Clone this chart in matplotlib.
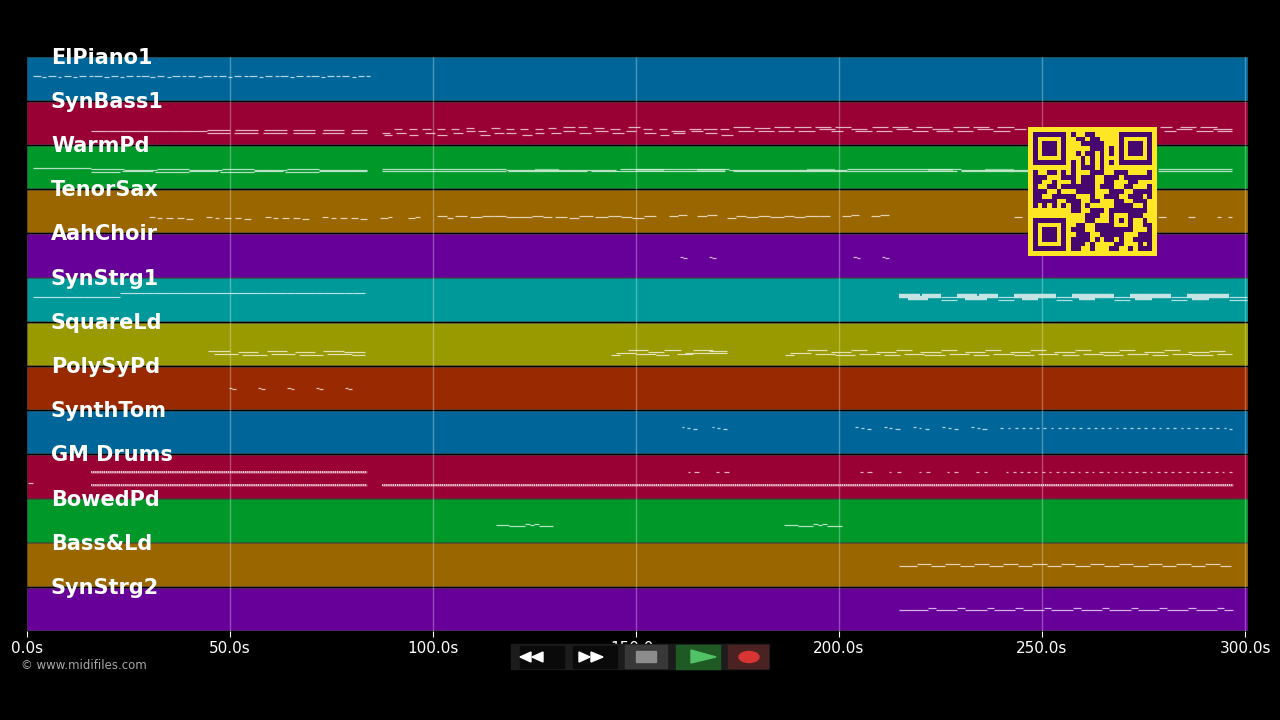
import numpy as np
import matplotlib
matplotlib.use("Agg")
import matplotlib.pyplot as plt
from matplotlib.colors import ListedColormap
from matplotlib.patches import Rectangle, Polygon, Ellipse

track_names = ["ElPiano1", "SynBass1", "WarmPd", "TenorSax", "AahChoir", "SynStrg1", "SquareLd",
               "PolySyPd", "SynthTom", "GM Drums", "BowedPd", "Bass&Ld", "SynStrg2"]
track_colors = ["#006699", "#990033", "#009929", "#996600", "#660099", "#009999", "#999900",
                "#992900", "#006699", "#990033", "#009929", "#996600", "#660099"]
time_ticks = [0, 50, 100, 150, 200, 250, 300]
time_labels = ["0.0s", "50.0s", "100.0s", "150.0s", "200.0s", "250.0s", "300.0s"]

# notes are (start seconds, end seconds, position inside the track row)
el_piano = [(1.5, 3.4, .45), (3.8, 4.6, .46), (5.2, 7.2, .45), (7.6, 8.4, .46), (9, 10.8, .45), (11.4, 12.4, .46),
            (12.8, 14.6, .45), (15.2, 16.2, .44), (16.6, 18.4, .45), (19, 20.2, .46), (20.6, 22.4, .45),
            (23, 24, .46), (24.4, 26.2, .45), (26.8, 27.8, .44), (28.2, 30, .45), (30.4, 31.6, .46),
            (32, 33.8, .45), (34.4, 35.4, .46), (35.8, 37.6, .45), (38.2, 39.2, .44), (39.6, 41.4, .45),
            (42, 43, .46), (43.4, 45.4, .45), (45.8, 46.8, .44), (47.2, 49, .45), (49.6, 50.6, .46),
            (51, 52.8, .45), (53.4, 54.4, .44), (54.8, 56.6, .45), (57.2, 58.2, .46), (58.6, 60.4, .45),
            (61, 62, .44), (62.4, 64.2, .45), (64.8, 65.8, .46), (66.2, 68, .45), (68.6, 69.6, .44),
            (70, 71.8, .45), (72.4, 73.4, .46), (73.8, 75.6, .45), (76.2, 77.2, .44), (77.6, 79.4, .45),
            (80, 81, .46), (81.4, 83, .45), (83.4, 84.6, .45)]
syn_bass = [(15.7, 20, .68), (20, 23, .69), (23, 28, .68), (28, 30, .69), (30, 35, .68), (35, 37.5, .69),
            (37.5, 44.3, .68), (44.3, 50, .67), (44.3, 50, .72), (51.2, 57, .67), (51, 57, .72),
            (58.4, 64, .67), (58.2, 64, .72), (65.6, 71, .67), (65.4, 71, .72), (72.8, 78, .67),
            (72.6, 78, .72), (80, 83.7, .67), (79.8, 83.7, .72),
            (87.4, 89.4, .72), (88, 90, .78), (90.4, 92.4, .65), (91, 93.4, .72), (94, 96, .65), (94, 96.4, .78),
            (97.4, 99.4, .65), (98, 100.4, .72), (101, 103, .65), (101, 103.4, .78), (104.4, 106.4, .65),
            (105, 107.4, .72), (108, 110, .62), (108, 110.4, .69), (111, 113, .69), (111.6, 114, .78),
            (114.4, 116.4, .62), (115, 117.4, .72), (118, 120, .65), (118, 120.4, .72), (121.4, 123.4, .65),
            (122, 124.4, .78), (125, 127, .65), (125, 127.4, .72), (128.4, 130.4, .62), (129, 131.4, .72),
            (132, 135, .6), (132, 135, .69), (135.6, 138, .6), (136, 139, .72), (139.4, 142, .62), (140, 143, .69),
            (143.5, 146, .63), (144, 147, .72), (147.6, 150, .69), (148, 151, .6), (151.6, 154, .65),
            (152, 155, .72), (155.6, 157.6, .65), (156, 158, .78), (158.6, 162, .69), (159, 162, .74),
            (163, 166, .63), (163.6, 166.6, .69), (166.6, 170, .65), (167, 170, .74), (170.6, 173, .65),
            (171, 174, .78), (174, 178, .59), (175, 179, .69), (179, 183, .62), (180, 184, .69),
            (184, 188, .59), (185, 189, .69), (189, 193, .59), (190, 194, .69), (194, 198, .59),
            (195, 199, .63), (198, 201, .69), (199, 203, .59), (203, 207, .63), (204, 208, .69),
            (208, 212, .59), (209, 213, .69), (213, 217, .59), (214, 218, .63), (218, 222, .69),
            (219, 223, .59), (223, 227, .63), (224, 228, .69), (228, 232, .59), (229, 233, .69),
            (233, 237, .59), (234, 238, .63), (238, 242, .69), (239, 243, .59), (243, 246, .63),
            (279, 282, .59), (280, 283, .69), (283, 287, .63), (284, 288, .59), (288, 292, .69),
            (289, 293, .59), (292, 296.8, .63), (293, 296.8, .69)]
warm_pd = [(1.5, 15.7, .525), (15.7, 24, .54), (15.7, 23, .61), (24, 32, .56), (23.5, 31, .6), (32, 40, .54),
           (31.5, 40, .61), (40, 48, .56), (40, 47, .6), (48, 56, .54), (47.5, 56, .61), (56, 64, .56),
           (56, 63, .6), (64, 72, .54), (63.5, 72, .61), (72, 83.7, .56), (72, 83.7, .6),
           (87.5, 118, .555), (87.5, 118, .595), (118, 145, .56), (118.5, 138, .6), (139, 146, .6),
           (146, 173, .55), (146, 172, .595), (173, 202, .56), (174, 202, .6), (202, 230, .55),
           (202, 229, .595), (230, 246.5, .56), (230, 246.5, .6), (278.5, 296.8, .555), (278.5, 296.8, .595)]
warm_thick = [(125, 131), (150, 157), (165, 172), (192, 199), (222, 228), (236, 243)]
tenor_sax = [(30, 31.5, .64), (32, 33.2, .66), (34.2, 36, .65), (37, 38.6, .65), (39.2, 41, .67),
             (44, 45.6, .64), (46.2, 47.4, .66), (48.4, 50.2, .65), (51.2, 52.8, .65), (53.4, 55.2, .67),
             (58.5, 60, .64), (60.6, 61.8, .66), (62.8, 64.6, .65), (65.6, 67.2, .65), (67.8, 69.5, .67),
             (72.7, 74.2, .64), (74.8, 76, .66), (77, 78.8, .65), (79.8, 81.4, .65), (82, 83.7, .67),
             (87, 88.8, .66), (88.8, 90, .64), (93.9, 95.6, .66), (95.6, 96.8, .64),
             (101, 103.4, .62), (103.4, 105, .65), (105.4, 108.4, .62), (109, 112, .63), (112, 115, .61),
             (115, 118, .62), (118, 121, .64), (121, 124.4, .63), (124.4, 127, .61), (127, 129.4, .64),
             (130, 133, .63), (133.4, 136, .65), (136, 139.4, .62), (140, 143, .63), (143, 146.4, .61),
             (146.4, 149, .63), (149, 152, .65), (152, 155, .62), (158, 160.4, .62), (160.4, 162.5, .59),
             (165, 167.4, .62), (167.4, 170, .59), (172.4, 174.6, .65), (174.6, 177, .62), (177, 180, .64),
             (180, 183, .62), (183, 186.4, .63), (186.4, 189, .61), (189, 191.6, .64), (191.6, 195, .62),
             (195, 197.7, .6), (200.7, 203, .62), (203, 205, .59), (207.9, 210, .62), (210, 212.3, .59),
             (243, 245, .63), (278.6, 280.5, .63), (286, 287.7, .63), (293, 294, .63), (295.8, 296.7, .63)]
aah_choir = [(160.8, 161.6, .53), (161.6, 162.5, .55), (168, 168.8, .53), (168.8, 169.7, .55),
             (203.5, 204.3, .53), (204.3, 205.2, .55), (210.6, 211.4, .53), (211.4, 212.3, .55)]
syn_strg1 = [(1.5, 9, .44), (9, 14, .45), (14, 23, .44), (23, 29, .35), (29, 31, .36), (31, 36, .35), (36, 38, .36),
             (38, 43, .35), (43, 45, .36), (45, 50, .35), (50, 52, .36), (52, 57, .35), (57, 59, .36), (59, 64, .35),
             (64, 66, .36), (66, 71, .35), (71, 73, .36), (73, 78, .35), (78, 80, .36), (80, 83.3, .35),
             (225, 229, .44), (225, 229, .52), (239.2, 243.2, .44), (239.2, 243.2, .52), (253.4, 257.4, .44),
             (253.4, 257.4, .52), (267.6, 271.6, .44), (267.6, 271.6, .52), (281.8, 285.8, .44),
             (281.8, 285.8, .52), (296, 300.4, .44), (296, 300.4, .52)]
strg1_thick = [(214.8, 220, .41), (217, 222, .46), (220.5, 225, .41), (229, 234, .41), (231, 236.5, .46),
               (234.5, 239.2, .41), (243.2, 247, .41), (245, 249, .46), (247, 253.4, .41), (257.4, 261, .41),
               (259, 263, .46), (261, 267.6, .41), (271.6, 275, .41), (273, 277, .46), (275, 281.8, .41),
               (285.8, 289, .41), (287, 291, .46), (289, 296, .41)]
square_ld = [(44.6, 50, .67), (46, 52, .74), (52, 57, .68), (53, 59, .76), (59, 64, .67), (60, 66, .74),
             (66, 71, .68), (67, 73, .76), (73, 78, .67), (74, 80, .74), (78, 83.3, .68), (80, 83.3, .76),
             (143.8, 146, .76), (145, 150, .71), (148, 153, .64), (150, 155, .73), (153, 157, .68), (155, 158, .76),
             (157, 161, .65), (160, 164, .73), (162, 166, .71), (164, 169, .64), (166, 172.4, .7), (168, 172.4, .66),
             (186.7, 189, .76), (188, 193, .71), (192, 197, .64), (194, 199, .73), (198, 203, .68), (199, 204, .76),
             (203, 207, .65), (205, 210, .73), (209, 214, .68), (211, 215, .76), (214, 218, .64), (216, 221, .73),
             (220, 225, .68), (221, 226, .76), (225, 229, .65), (227, 232, .73), (231, 236, .68), (233, 237, .76),
             (236, 240, .64), (238, 243, .73), (242, 247, .68), (243, 248, .76), (247, 251, .65), (249, 254, .73),
             (253, 258, .68), (255, 259, .76), (258, 262, .64), (260, 265, .73), (264, 269, .68), (265, 270, .76),
             (269, 273, .65), (271, 276, .73), (275, 280, .68), (277, 281, .76), (280, 284, .64), (282, 287, .73),
             (286, 291, .68), (287, 292, .76), (291, 295, .66), (293, 296.8, .73)]
poly_sy = [(49.8, 50.6, .5), (50.6, 51.5, .52), (56.9, 57.7, .5), (57.7, 58.6, .52), (64, 64.9, .5), (64.9, 65.8, .52),
           (71.2, 72, .5), (72, 72.9, .52), (78.3, 79.1, .5), (79.1, 80, .52)]
synth_tom = [(161.2, 161.9, .39), (162.6, 163.3, .41), (164, 165, .43), (168.6, 169.3, .39), (170, 170.7, .41),
             (171.3, 172.3, .43), (204, 204.7, .39), (205.4, 206.1, .41), (206.8, 207.8, .43),
             (211, 211.7, .39), (212.4, 213.1, .41), (213.9, 215, .43), (218.2, 218.9, .39), (219.6, 220.3, .41),
             (221.1, 222.2, .43), (225.4, 226.1, .39), (226.8, 227.5, .41), (228.2, 229.3, .43),
             (232.5, 233.2, .39), (233.9, 234.6, .41), (235.3, 236.4, .43),
             (239.7, 240.4, .4), (241.5, 242.2, .41), (243.3, 244, .4), (245, 245.7, .41), (246.8, 247.5, .4),
             (248.6, 249.3, .41), (250.3, 251, .4), (252.1, 252.8, .41), (253.9, 254.6, .4), (255.7, 256.4, .41),
             (257.4, 258.1, .4), (259.2, 259.9, .41), (261, 261.7, .4), (262.8, 263.5, .41), (264.5, 265.2, .4),
             (266.3, 267, .41), (268.1, 268.8, .4), (269.9, 270.6, .41), (271.6, 272.3, .4), (273.4, 274.1, .41),
             (275.2, 275.9, .4), (277, 277.7, .41), (278.7, 279.4, .4), (280.5, 281.2, .41), (282.3, 283, .4),
             (284.1, 284.8, .41), (285.8, 286.5, .4), (287.6, 288.3, .41), (289.4, 290.1, .4), (291.1, 291.8, .41),
             (292.9, 293.6, .4), (294.7, 295.4, .41), (296, 296.7, .43)]
gm_hits = [(0.2, 1.5, .66), (162.7, 163.2, .41), (164.4, 165.5, .41), (169.8, 170.4, .41), (171.7, 172.8, .41),
           (205.2, 205.8, .41), (207, 208, .41), (212.4, 212.9, .41), (214.2, 215.3, .41), (219.6, 220.1, .41),
           (221.3, 222.4, .41), (226.6, 227.2, .41), (228.4, 229.3, .41), (233.8, 234.4, .41), (235.6, 236.5, .41),
           (241, 241.6, .41), (242.8, 243.6, .41), (244.6, 245.2, .41), (246.3, 247.1, .41), (248.1, 248.7, .41),
           (249.9, 250.7, .41), (251.7, 252.3, .41), (253.4, 254.2, .41), (255.2, 255.8, .41), (257, 257.8, .41),
           (258.8, 259.4, .41), (260.5, 261.3, .41), (262.3, 262.9, .41), (264.1, 264.9, .41), (265.9, 266.5, .41),
           (267.6, 268.4, .41), (269.4, 270, .41), (271.2, 272, .41), (273, 273.6, .41), (274.7, 275.5, .41),
           (276.5, 277.1, .41), (278.3, 279.1, .41), (280.1, 280.7, .41), (281.8, 282.6, .41), (283.6, 284.2, .41),
           (285.4, 286.2, .41), (287.2, 287.8, .41), (288.9, 289.7, .41), (290.7, 291.3, .41), (292.5, 293.3, .41),
           (294.3, 294.9, .41), (296, 296.8, .41)]
gm_rolls = [(15.7, 83.7, .41), (15.7, 83.7, .69), (87.5, 297, .69)]
bowed_pd = [(115.5, 118.8, .6), (118.8, 122.7, .63), (122.7, 123.9, .59), (123.9, 124.9, .6), (124.9, 126, .57),
            (126, 129.6, .63), (186.4, 190, .6), (190, 193.7, .63), (193.7, 194.8, .59), (194.8, 195.9, .6),
            (195.9, 197, .57), (197, 200.8, .63)]
bass_ld = [(214.8, 219.1, .52), (219.1, 222.6, .49), (222.6, 226.2, .52), (226.2, 229.8, .49), (229.8, 233.3, .52),
           (233.3, 236.9, .49), (236.9, 240.4, .52), (240.4, 244, .49), (244, 247.5, .52), (247.5, 251.1, .49),
           (251.1, 254.7, .52), (254.7, 258.2, .49), (258.2, 261.8, .52), (261.8, 265.3, .49), (265.3, 268.9, .52),
           (268.9, 272.4, .49), (272.4, 276, .52), (276, 279.6, .49), (279.6, 283.1, .52), (283.1, 286.7, .49),
           (286.7, 290.2, .52), (290.2, 293.8, .49), (293.8, 296.5, .52)]
syn_strg2 = [(214.8, 222, .52), (222, 223.8, .49), (223.8, 229.1, .52), (229.1, 230.9, .49), (230.9, 236.4, .52),
             (236.4, 238.2, .49), (238.2, 243.4, .52), (243.4, 245.2, .49), (245.2, 250.5, .52), (250.5, 252.3, .49),
             (252.3, 257.7, .52), (257.7, 259.5, .49), (259.5, 264.7, .52), (264.7, 266.5, .49), (266.5, 271.9, .52),
             (271.9, 273.7, .49), (273.7, 278.9, .52), (278.9, 280.7, .49), (280.7, 286, .52), (286, 287.8, .49),
             (287.8, 293.1, .52), (293.1, 294.9, .49), (294.9, 297, .52)]

track_notes = [el_piano, syn_bass, warm_pd, tenor_sax, aah_choir, syn_strg1, square_ld,
               poly_sy, synth_tom, gm_hits, bowed_pd, bass_ld, syn_strg2]

qr_rows = ["1111111 01001100000 1111111",
           "1000001 00110110000 1000001",
           "1011101 00011111000 1011101",
           "1011101 00000111010 1011101",
           "1011101 00101101010 1011101",
           "1000001 00010101000 1000001",
           "1111111 01010101010 1111111",
           "0000000 01011101000 0000000",
           "1001101 01000111001 1100001",
           "1110001 11011100111 0111111",
           "1100100 01011100110 0011000",
           "1001101 11111101110 0110001",
           "1110010 00111100011 1001111",
           "1100111 11000100111 0011101",
           "1111100 11100110001 1001110",
           "1010101 01101000001 1110010",
           "0000000 01100111011 1111110",
           "0000000 00001110010 0011100",
           "1111111 00001100010 1010010",
           "1000001 00110011110 0010011",
           "1011101 01110011111 1110001",
           "1011101 00111001111 1000111",
           "1011101 01111010110 1001111",
           "1000001 01110100001 1000101",
           "1111111 01100100011 0010111"]

fig = plt.figure(figsize=(12.8, 7.2), dpi=100, facecolor="black")
ax = fig.add_axes([27 / 1280, 1 - 631 / 720, 1220.5 / 1280, 574.5 / 720], facecolor="black")
ax.set_xlim(0, 300.6)
ax.set_ylim(13, 0)

rows = np.arange(len(track_names))
ax.barh(rows + 0.5, 300.6, height=0.96, color=track_colors, edgecolor=(1, 1, 1, 0.2), linewidth=0.5, zorder=1)
ax.vlines(time_ticks[1:], 0, 13, color="white", alpha=0.3, linewidth=1, zorder=2)

for i, notes in enumerate(track_notes):
    starts, ends, pos = zip(*notes)
    ax.hlines(i + np.array(pos), starts, ends, color="white", alpha=0.7, linewidth=0.9, zorder=3)

# the fat string notes and drum rolls need their own line styles
starts, ends = zip(*warm_thick)
ax.hlines([2.575] * len(starts), starts, ends, color="#c8f0d0", alpha=0.6, linewidth=1.6, zorder=3)
starts, ends, pos = zip(*strg1_thick)
ax.hlines(5 + np.array(pos), starts, ends, color="#c4e4e4", linewidth=3.2, zorder=3)
starts, ends, pos = zip(*gm_rolls)
ax.hlines(9 + np.array(pos), starts, ends, color="#ffd8e4", alpha=0.35, linewidth=1.8, zorder=3)
ax.hlines(9 + np.array(pos), starts, ends, color="white", alpha=0.8, linewidth=1.4,
          linestyles=(0, (0.6, 0.5)), zorder=3)

for i, name in enumerate(track_names):
    ax.text(5.9, i + 0.025, name, color="white", fontsize=15, fontweight="bold", va="center", zorder=6, clip_on=False)

for side in ["top", "left", "right", "bottom"]:
    ax.spines[side].set_visible(False)
ax.set_yticks([])
ax.set_xticks(time_ticks)
ax.set_xticklabels(time_labels, color="white", fontsize=11)
ax.tick_params(axis="x", color="white", length=4, width=0.8, pad=3)

# overlay in pixel coordinates for the QR code and the player buttons
over = fig.add_axes([0, 0, 1, 1], facecolor="none")
over.set_xlim(0, 1280)
over.set_ylim(720, 0)
over.axis("off")

qr = np.array([[int(c) for c in r.replace(" ", "")] for r in qr_rows])
qr = np.pad(qr, 1)
over.imshow(qr, cmap=ListedColormap(["#fde725", "#46086e"]), extent=(1028, 1157, 256, 127),
            aspect="auto", interpolation="nearest", zorder=5)
over.set_xlim(0, 1280)
over.set_ylim(720, 0)

over.add_patch(Rectangle((511, 644), 258, 25, color="#1c1c1c", zorder=7))
over.add_patch(Rectangle((520, 646), 44, 22, color="#0a0a0a", zorder=8))
over.add_patch(Rectangle((573, 646), 44, 22, color="#0a0a0a", zorder=8))
over.add_patch(Rectangle((625, 645), 42, 23, color="#383838", zorder=8))
over.add_patch(Rectangle((676, 645), 44, 24, color="#1f5a25", zorder=8))
over.add_patch(Rectangle((728, 645), 40, 23, color="#4a2222", zorder=8))
over.add_patch(Polygon([[531, 652], [520, 657], [531, 662]], color="white", zorder=9))
over.add_patch(Polygon([[543, 652], [532, 657], [543, 662]], color="white", zorder=9))
over.add_patch(Polygon([[579, 652], [590, 657], [579, 662]], color="white", zorder=9))
over.add_patch(Polygon([[591, 652], [603, 657], [591, 662]], color="white", zorder=9))
over.add_patch(Rectangle((636, 651), 20, 11, color="#8c8c8c", zorder=9))
over.add_patch(Polygon([[691, 650], [716, 657], [691, 663]], color="#52c266", zorder=9))
over.add_patch(Ellipse((749, 657), 20, 11, color="#d83434", zorder=9))

over.text(21, 665.5, "© www.midifiles.com", color="#a8a8a8", fontsize=8.5, va="center", ha="left")

fig.savefig("out.png", dpi=100, facecolor="black")
